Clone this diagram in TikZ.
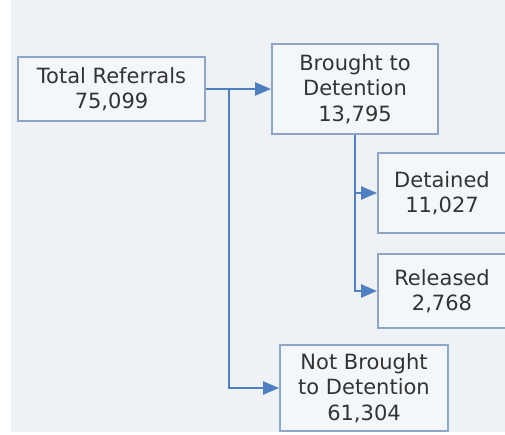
\documentclass[tikz,border=0pt]{standalone}
\usepackage{fontspec}
\setmainfont{DejaVu Sans}
\usetikzlibrary{arrows.meta}

\definecolor{bgcol}{HTML}{EEF2F5}
\definecolor{boxfill}{HTML}{F4F7FA}
\definecolor{boxline}{HTML}{8EA5C8}
\definecolor{linkcol}{HTML}{4F7FC0}
\definecolor{txtcol}{HTML}{333333}

\begin{document}
\begin{tikzpicture}[x=1pt, y=-1pt,
    every node/.style={draw=boxline, line width=1.8pt, fill=boxfill, text=txtcol, align=center,
        font=\fontsize{21}{25.5}\selectfont, inner sep=0pt},
    every path/.style={line width=2.2pt},
    link/.style={draw=linkcol, -{Triangle[length=16pt, width=13pt]}}]

    \useasboundingbox[fill=white] (0,0) rectangle (505,435);
    \fill[bgcol] (11,0) rectangle (505,432);

    \node[minimum width=187pt, minimum height=64pt] (1) at (111.5,89) {Total Referrals\\75,099};
    \node[minimum width=166pt, minimum height=90pt] (2) at (355,89) {Brought to\\Detention\\13,795};
    \node[minimum width=128pt, minimum height=80pt] (3) at (442,193) {Detained\\11,027};
    \node[minimum width=128pt, minimum height=74pt] (4) at (442,291) {Released\\2,768};
    \node[minimum width=168pt, minimum height=86pt] (5) at (364,388) {Not Brought\\to Detention\\61,304};

    \coordinate (j1) at (229,89);

    \draw[link] (1) -- (2);
    \draw[link] (j1) |- (5);
    \draw[link] (2) |- (3);
    \draw[link] (2) |- (4);

\end{tikzpicture}
\end{document}
